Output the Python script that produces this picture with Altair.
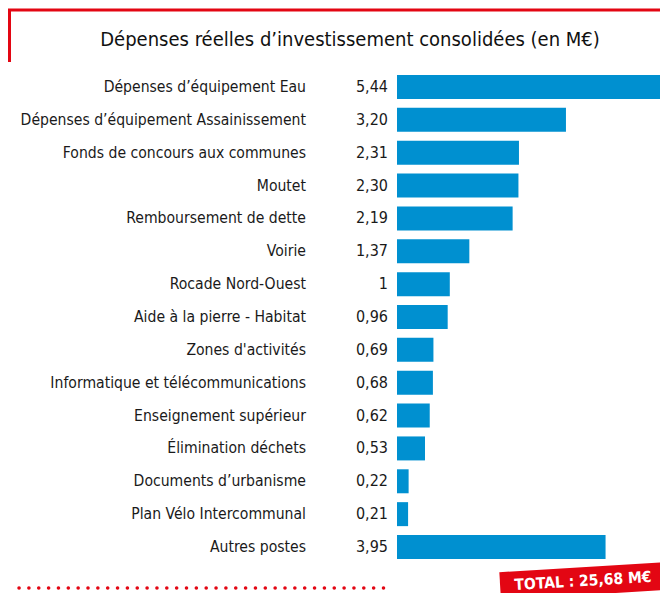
import altair as alt
import pandas as pd

categories = [
    "Dépenses d’équipement Eau",
    "Dépenses d’équipement Assainissement",
    "Fonds de concours aux communes",
    "Moutet",
    "Remboursement de dette",
    "Voirie",
    "Rocade Nord-Ouest",
    "Aide à la pierre - Habitat",
    "Zones d'activités",
    "Informatique et télécommunications",
    "Enseignement supérieur",
    "Élimination déchets",
    "Documents d’urbanisme",
    "Plan Vélo Intercommunal",
    "Autres postes",
]
values = [5.44, 3.20, 2.31, 2.30, 2.19, 1.37, 1.0, 0.96, 0.69, 0.68, 0.62, 0.53, 0.22, 0.21, 3.95]
value_labels = ["5,44", "3,20", "2,31", "2,30", "2,19", "1,37", "1", "0,96", "0,69", "0,68",
                "0,62", "0,53", "0,22", "0,21", "3,95"]
title_text = "Dépenses réelles d’investissement consolidées (en M€)"
total_text = "TOTAL : 25,68 M€"

FONT = "DejaVu Sans Condensed, sans-serif"
RED = "#e30613"
BLUE = "#0090d0"

W, H = 652, 585

df = pd.DataFrame({"cat": categories, "val": values, "lab": value_labels})
one = pd.DataFrame({"a": [0]})

yenc = alt.Y("cat:N", sort=categories, axis=None,
             scale=alt.Scale(range=[62.57, 555.43], paddingInner=0.27, paddingOuter=0.135))
xscale = alt.Scale(domain=[0, 5], range=[389, 653])

bars = alt.Chart(df).mark_bar(color=BLUE, clip=True).encode(
    x=alt.X("val:Q", scale=xscale, axis=None),
    y=yenc,
)
cat_text = alt.Chart(df).mark_text(align="right", baseline="middle", font=FONT, fontSize=15.6,
                                   color="#1a1a1a").encode(
    x=alt.value(298), y=yenc, text="cat:N")
val_text = alt.Chart(df).mark_text(align="right", baseline="middle", font=FONT, fontSize=16,
                                   color="#1a1a1a").encode(
    x=alt.value(380), y=yenc, text="lab:N")

title = alt.Chart(one).mark_text(text=title_text, align="center", baseline="middle", font=FONT,
                                 fontSize=20, color="#111111").encode(
    x=alt.value(342), y=alt.value(32))

top_rule = alt.Chart(one).mark_rule(color=RED, strokeWidth=3).encode(
    x=alt.value(0), x2=alt.value(W), y=alt.value(2))
left_rule = alt.Chart(one).mark_rule(color=RED, strokeWidth=3).encode(
    x=alt.value(1.5), y=alt.value(1), y2=alt.value(54))

dots = alt.Chart(one).mark_rule(color=RED, strokeWidth=3.5, strokeCap="round",
                                strokeDash=[0.1, 9.75]).encode(
    x=alt.value(11), x2=alt.value(378), y=alt.value(580))

box = alt.Chart(one).mark_point(
    shape="M-1,-0.165L1,-0.165L1,0.165L-1,0.165Z", filled=True, color=RED, opacity=1,
    size=168 * 168, angle=356.6).encode(
    x=alt.value(576), y=alt.value(573))
total = alt.Chart(one).mark_text(text=total_text, align="center", baseline="middle", font=FONT,
                                 fontSize=15.5, fontWeight="bold", color="white", angle=356.6).encode(
    x=alt.value(575), y=alt.value(573))

chart = alt.layer(top_rule, left_rule, title, bars, cat_text, val_text, dots, box, total).properties(
    width=W, height=H, padding=0, autosize=alt.AutoSizeParams(type="none"),
    background="white",
).configure_view(stroke=None)

chart.save("out.html", embed_options={"renderer": "svg", "actions": False})
